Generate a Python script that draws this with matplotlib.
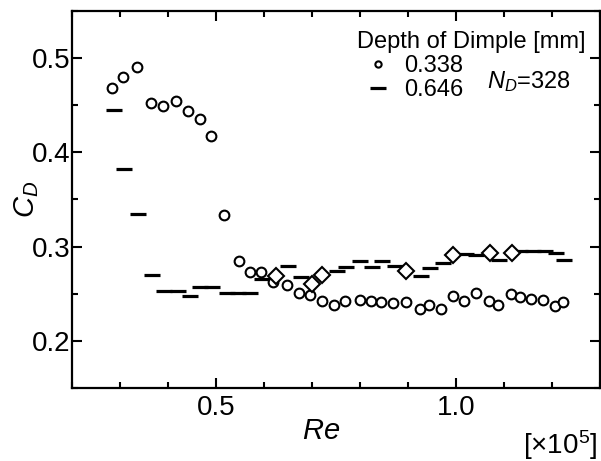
"""
plot.py — drag coefficient C_D vs Reynolds number for a dimpled sphere
Two dimple depths (0.338 mm circles, 0.646 mm dashes) plus the N_D=328 diamonds.
"""
import matplotlib
matplotlib.use("Agg")
import matplotlib.pyplot as plt
from matplotlib.lines import Line2D
from matplotlib.ticker import MultipleLocator

plt.rcParams["font.family"] = "Liberation Sans"
plt.rcParams["mathtext.fontset"] = "custom"
plt.rcParams["mathtext.rm"] = "Liberation Sans"
plt.rcParams["mathtext.it"] = "Liberation Sans:italic"

# --- Data (Re in units of 1e5) --------------------------------------------
re_338 = [0.284, 0.307, 0.337, 0.365, 0.391, 0.418, 0.442, 0.468, 0.491, 0.517,
          0.548, 0.572, 0.594, 0.620, 0.648, 0.673, 0.697, 0.722, 0.747, 0.770,
          0.800, 0.824, 0.845, 0.870, 0.897, 0.925, 0.945, 0.970, 0.993, 1.016,
          1.041, 1.068, 1.088, 1.115, 1.133, 1.157, 1.182, 1.206, 1.224]
cd_338 = [0.468, 0.480, 0.490, 0.452, 0.449, 0.454, 0.444, 0.435, 0.417, 0.334,
          0.285, 0.273, 0.273, 0.263, 0.259, 0.251, 0.249, 0.243, 0.238, 0.243,
          0.244, 0.243, 0.241, 0.240, 0.241, 0.234, 0.238, 0.234, 0.248, 0.243,
          0.251, 0.242, 0.238, 0.250, 0.247, 0.245, 0.244, 0.237, 0.241]

re_646 = [0.288, 0.309, 0.338, 0.368, 0.392, 0.422, 0.447, 0.468, 0.493, 0.523,
          0.547, 0.571, 0.597, 0.651, 0.678, 0.752, 0.772, 0.801, 0.825, 0.846,
          0.874, 0.928, 0.947, 0.974, 1.022, 1.041, 1.089, 1.134, 1.160, 1.186,
          1.208, 1.226]
cd_646 = [0.445, 0.382, 0.335, 0.270, 0.253, 0.253, 0.248, 0.257, 0.257, 0.251,
          0.251, 0.251, 0.266, 0.280, 0.268, 0.274, 0.278, 0.285, 0.278, 0.285,
          0.280, 0.269, 0.277, 0.283, 0.292, 0.291, 0.286, 0.295, 0.295, 0.295,
          0.293, 0.286]

re_nd = [0.626, 0.700, 0.721, 0.897, 0.994, 1.070, 1.116]
cd_nd = [0.269, 0.260, 0.270, 0.274, 0.291, 0.293, 0.293]

depth_labels = ["0.338", "0.646"]

# --- Figure ---------------------------------------------------------------
fig = plt.figure(figsize=(6.01, 4.61), dpi=100)
ax = fig.add_axes([0.1193, 0.1577, 0.8790, 0.8191])

ax.plot(re_646, cd_646, ls="none", marker="_", ms=12, mew=2.3, color="black", zorder=2)
ax.plot(re_338, cd_338, ls="none", marker="o", ms=7, mew=1.5, mfc="white",
        mec="black", zorder=3)
ax.plot(re_nd, cd_nd, ls="none", marker="D", ms=8, mew=1.5, mfc="white",
        mec="black", zorder=4)

# --- Axes cosmetics -------------------------------------------------------
ax.set_xlim(0.2, 1.3)
ax.set_ylim(0.15, 0.55)
ax.xaxis.set_minor_locator(MultipleLocator(0.1))
ax.yaxis.set_minor_locator(MultipleLocator(0.05))
ax.set_xticks([0.5, 1.0])
ax.set_xticklabels(["0.5", "1.0"])
ax.set_yticks([0.2, 0.3, 0.4, 0.5])
ax.set_yticklabels(["0.2", "0.3", "0.4", "0.5"])
ax.tick_params(which="both", direction="in", top=True, right=True, width=1.5)
ax.tick_params(which="major", length=7.5, labelsize=20)
ax.tick_params(which="minor", length=4.5)
ax.tick_params(axis="y", which="major", pad=1)
ax.tick_params(axis="x", which="major", pad=5)
for s in ax.spines.values():
    s.set_linewidth(1.6)

ax.set_xlabel("$Re$", fontsize=21, labelpad=0)
ax.xaxis.set_label_coords(0.472, -0.075)
ax.set_ylabel("$C_D$", fontsize=21, labelpad=2)
ax.yaxis.set_label_coords(-0.058, 0.5)
fig.text(0.994, 0.034, r"[$\times$10$^5$]", fontsize=20, ha="right", va="center")

# --- Legend ---------------------------------------------------------------
ax.text(0.540, 0.918, "Depth of Dimple [mm]", transform=ax.transAxes,
        fontsize=17, ha="left", va="center")
handles = [Line2D([], [], ls="none", marker="o", ms=4.5, mew=1.5, mfc="white", mec="black"),
           Line2D([], [], ls="none", marker="_", ms=12, mew=2.3, color="black")]
ax.legend(handles, depth_labels, loc="upper left", bbox_to_anchor=(0.540, 0.882),
          frameon=False, fontsize=17, borderpad=0, borderaxespad=0,
          handlelength=1.8, handletextpad=0.2, labelspacing=0.07)
ax.text(0.7855, 0.8115, "$N_D$=328", transform=ax.transAxes,
        fontsize=17, ha="left", va="center")

fig.savefig("out.png", dpi=100)
